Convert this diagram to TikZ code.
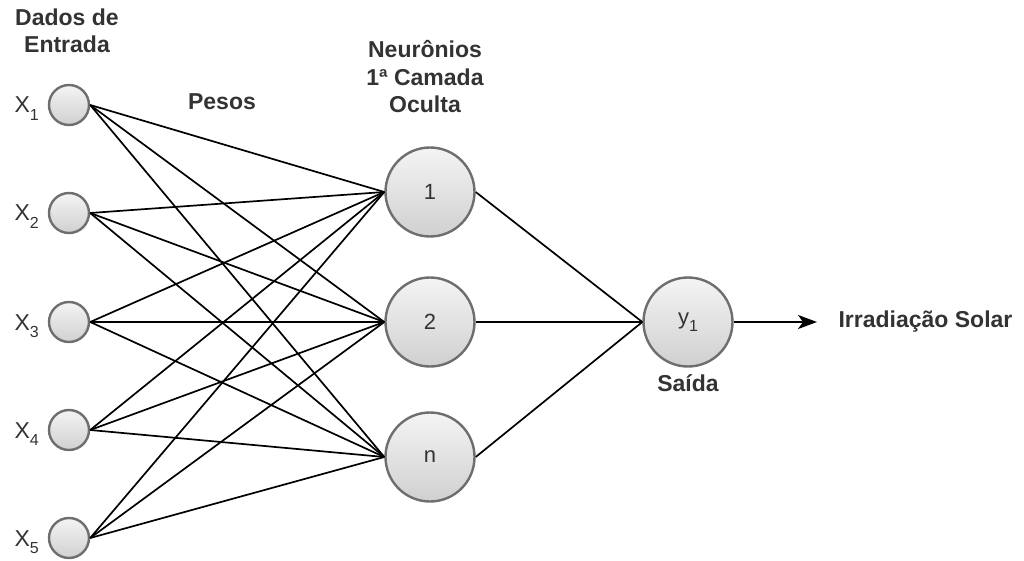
\documentclass[tikz,border=0pt]{standalone}
\usepackage{fontspec}
\setmainfont{Liberation Sans}
\usetikzlibrary{arrows.meta}
\definecolor{ringgray}{HTML}{6E6E6E}
\definecolor{filltop}{HTML}{F4F4F4}
\definecolor{fillbot}{HTML}{D0D0D0}
\definecolor{txtgray}{HTML}{333333}
\newcommand{\lowidx}[1]{\raisebox{-0.34em}{\fontsize{16}{16}\selectfont #1}}
\begin{document}
\begin{tikzpicture}[x=1pt,y=-1pt,
  unit/.style={circle, inner sep=0pt, draw=ringgray, line width=2.4pt,
    top color=filltop, bottom color=fillbot, text=txtgray,
    font=\fontsize{22}{26}\selectfont},
  innode/.style={unit, minimum size=40pt},
  bignode/.style={unit, minimum size=89pt},
  wire/.style={line width=1.7pt, black},
  title/.style={align=center, text=txtgray,
    font=\fontsize{23}{27.5}\selectfont\bfseries},
  plain/.style={text=txtgray, font=\fontsize{23}{27}\selectfont}]
\useasboundingbox (0,0) rectangle (1024,561);

% input layer
\foreach \i/\yy in {1/105,2/213,3/322,4/430,5/538}{
  \node[innode] (x\i) at (69,\yy) {};
  \node[plain, anchor=base west] (lx\i) at (11,\yy+8) {X\lowidx{\i}};
}

% hidden layer
\node[bignode] (h1) at (430,192) {1};
\node[bignode] (h2) at (430,322) {2};
\node[bignode] (h3) at (430,457) {n};

% output neuron
\node[bignode] (y) at (688,322) {y\lowidx{1}};
\coordinate (tip) at (817,322);

% weights: every input to every hidden neuron
\foreach \i in {1,...,5}{
  \foreach \j in {1,2,3}{
    \draw[wire] (x\i.east) -- (h\j.west);
  }
}
\foreach \j in {1,2,3}{
  \draw[wire] (h\j.east) -- (y.west);
}
\draw[wire, -{Stealth[length=19pt,width=14pt,inset=5pt]}] (y.east) -- (tip);

% captions
\node[title] (tin) at (67,31) {Dados de\\Entrada};
\node[title] (thid) at (425,77) {Neurônios\\1ª Camada\\Oculta};
\node[title] (tw) at (222,102) {Pesos};
\node[title] (tout) at (688,383) {Saída};
\node[title, anchor=west] (tres) at (835,322) {Irradiação Solar};
\end{tikzpicture}
\end{document}
